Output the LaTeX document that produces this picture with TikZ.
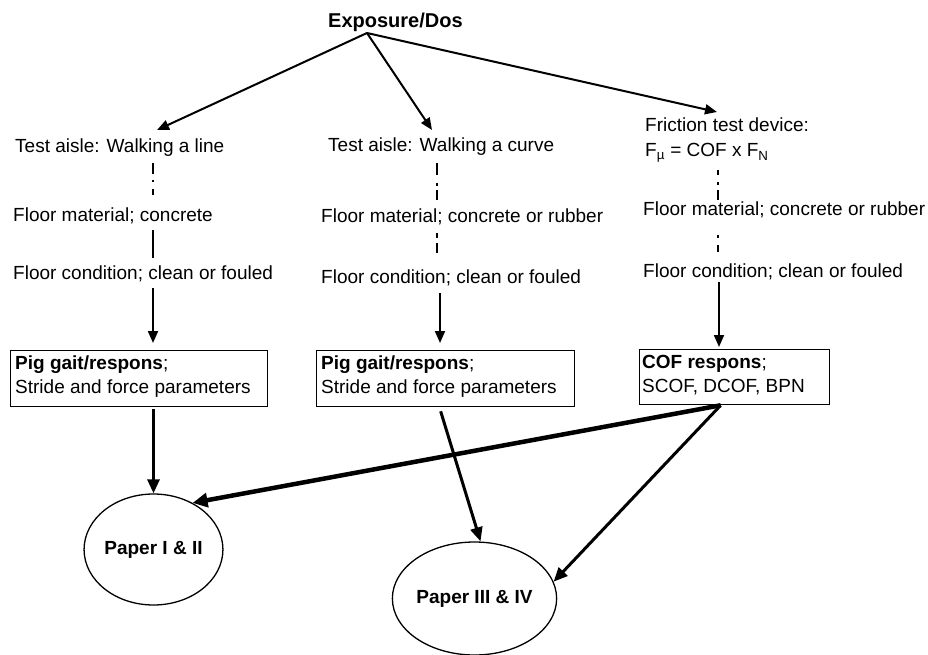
\documentclass[tikz,border=0pt]{standalone}
\usepackage{fontspec}
\setmainfont{Liberation Sans}
\usetikzlibrary{arrows.meta,calc,shapes.geometric}
\begin{document}
\begin{tikzpicture}[x=1pt,y=-1pt,
  txt/.style={anchor=base west,inner sep=0pt,font=\fontsize{19}{23}\selectfont},
  ttl/.style={anchor=base west,inner sep=0pt,font=\fontsize{20}{24}\selectfont\bfseries},
  boxnode/.style={draw,line width=1.3pt,anchor=north west,inner sep=0pt},
  paper/.style={draw,ellipse,line width=1.3pt,inner sep=0pt,font=\fontsize{19}{23}\selectfont\bfseries},
  thinarrow/.style={line width=2pt,-{Triangle[length=12pt,width=10pt]}},
  thickarrow/.style={line width=3pt,-{Triangle[length=14pt,width=12pt]}},
  heavyarrow/.style={line width=4.5pt,-{Triangle[length=15pt,width=14pt]}},
  vline/.style={line width=2.6pt}]
\useasboundingbox (0,0) rectangle (928,655);

% title
\node[ttl] (exp) at (328,28) {Exposure/Dos};
\coordinate (src) at (367,33);

% column texts
\node[txt] (t1) at (15,153) {Test aisle: Walking a line};
\node[txt] (m1) at (13,221) {Floor material; concrete};
\node[txt] (f1) at (13,279) {Floor condition; clean or fouled};

\node[txt] (t2) at (328,152) {Test aisle: Walking a curve};
\node[txt] (m2) at (321,222) {Floor material; concrete or rubber};
\node[txt] (f2) at (321,283) {Floor condition; clean or fouled};

\node[txt] (t3) at (645,132) {Friction test device:};
\node[txt] (t3b) at (645,157) {F\textsubscript{µ} = COF x F\textsubscript{N}};
\node[txt] (m3) at (643,215) {Floor material; concrete or rubber};
\node[txt] (f3) at (643,277) {Floor condition; clean or fouled};

% column x positions
\coordinate (c1) at (153,0);
\coordinate (c2) at (437,0);
\coordinate (c2a) at (440,0);
\coordinate (c3) at (718,0);
\coordinate (c3a) at (719,0);

% arrow tips from title
\coordinate (tip1) at (157,130);
\coordinate (tip2) at (432,130);
\coordinate (tip3) at (717,112);
\draw[thinarrow] (src) -- (tip1);
\draw[thinarrow] (src) -- (tip2);
\draw[thinarrow] (src) -- (tip3);

% boxes
\node[boxnode,minimum width=257pt,minimum height=56pt] (b1) at (10,350) {};
\node[txt] (b1a) at (15,369) {\textbf{Pig gait/respons};};
\node[txt] (b1b) at (15,393) {Stride and force parameters};

\node[boxnode,minimum width=258pt,minimum height=56pt] (b2) at (316,350) {};
\node[txt] (b2a) at (321,369) {\textbf{Pig gait/respons};};
\node[txt] (b2b) at (321,393) {Stride and force parameters};

\node[boxnode,minimum width=190pt,minimum height=55pt] (b3) at (639,349) {};
\node[txt] (b3a) at (642,368) {\textbf{COF respons};};
\node[txt] (b3b) at (642,392) {SCOF, DCOF, BPN};

% column 1 connectors
\draw[vline,dash pattern=on 11pt off 6pt on 2pt off 7pt on 6pt]
  ($(t1.base -| c1)+(0,10)$) -- ($(m1.base -| c1)+(0,-26)$);
\draw[line width=1.5pt] ($(m1.base -| c1)+(0,9)$) -- ($(f1.base -| c1)+(0,-21)$);
\draw[thinarrow] ($(f1.base -| c1)+(0,9)$) -- ($(b1.north -| c1)+(0,-7)$);

% column 2 connectors
\draw[vline,dash pattern=on 12pt off 8pt on 3pt off 4pt on 10pt]
  ($(t2.base -| c2)+(0,11)$) -- ($(m2.base -| c2)+(0,-22)$);
\draw[vline,dash pattern=on 5pt off 5pt on 10pt]
  ($(m2.base -| c2)+(0,11)$) -- ($(f2.base -| c2)+(0,-30)$);
\draw[thinarrow] ($(f2.base -| c2a)+(0,10)$) -- ($(b2.north -| c2a)+(0,-7)$);

% column 3 connectors
\draw[vline,dash pattern=on 5pt off 7pt on 3pt off 5pt on 10pt]
  ($(t3b.base -| c3)+(0,13)$) -- ($(m3.base -| c3)+(0,-15)$);
\draw[vline,dash pattern=on 3pt off 7pt on 7pt]
  ($(m3.base -| c3)+(0,20)$) -- ($(f3.base -| c3)+(0,-25)$);
\draw[thinarrow] ($(f3.base -| c3a)+(0,5)$) -- ($(b3.north -| c3a)+(0,-2)$);

% papers
\node[paper,minimum width=123pt,minimum height=111pt] (e1) at (153.5,549.5) {Paper I \& II};
\node[paper,minimum width=147pt,minimum height=113pt] (e2) at (474.5,598.5) {Paper III \& IV};

% lower arrows
\coordinate (b3o) at ($(b3.south)+(-14,0)$);
\draw[thickarrow] (e1.north |- b1.south) ++(0,2) -- (e1.north);
\draw[thickarrow] ($(b2.south)+(-5,4)$) -- ($(e2.north)+(6,0)$);
\draw[heavyarrow] (b3o) -- (e1.50);
\draw[thickarrow] (b3o) -- (e2.12);
\end{tikzpicture}
\end{document}
